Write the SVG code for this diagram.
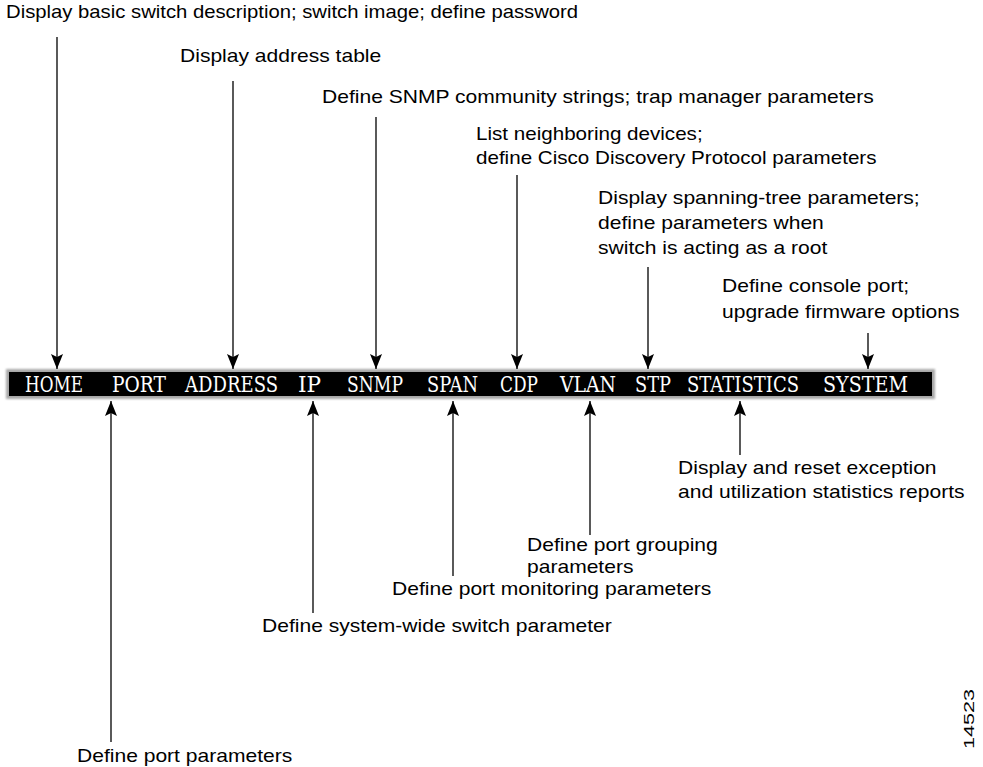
<svg xmlns="http://www.w3.org/2000/svg" width="983" height="767" viewBox="0 0 983 767">
<style>
.lbl{font-family:"Liberation Sans",Arial,sans-serif;font-size:18px;fill:#000}
.menu{font-family:"DejaVu Serif","Liberation Serif",serif;font-size:22px;fill:#fff}
.con{stroke:#000;stroke-width:1.3;fill:none}
.dn{marker-end:url(#ah)}
.up{marker-start:url(#ahs)}
</style>
<defs>
<marker id="ah" markerUnits="userSpaceOnUse" markerWidth="16" markerHeight="12" refX="15" refY="6" orient="auto">
<path d="M0,0 L15,6 L0,12 L3,6 z" fill="#000"/>
</marker>
<marker id="ahs" markerUnits="userSpaceOnUse" markerWidth="16" markerHeight="12" refX="0" refY="6" orient="auto">
<path d="M15,0 L0,6 L15,12 L12,6 z" fill="#000"/>
</marker>
<filter id="soft" x="-2%" y="-20%" width="104%" height="140%">
<feGaussianBlur stdDeviation="1"/>
</filter>
</defs>
<rect width="983" height="767" fill="#fff"/>
<g id="menubar">
<rect x="6" y="369" width="929" height="30" fill="#a8a8a8" filter="url(#soft)"/>
<rect x="9" y="372" width="923" height="24" fill="#000"/>
<text class="menu" x="25" y="392" textLength="58" lengthAdjust="spacingAndGlyphs">HOME</text>
<text class="menu" x="112" y="392" textLength="54" lengthAdjust="spacingAndGlyphs">PORT</text>
<text class="menu" x="185" y="392" textLength="93" lengthAdjust="spacingAndGlyphs">ADDRESS</text>
<text class="menu" x="298" y="392" textLength="23" lengthAdjust="spacingAndGlyphs">IP</text>
<text class="menu" x="347" y="392" textLength="56" lengthAdjust="spacingAndGlyphs">SNMP</text>
<text class="menu" x="427" y="392" textLength="51" lengthAdjust="spacingAndGlyphs">SPAN</text>
<text class="menu" x="500" y="392" textLength="38" lengthAdjust="spacingAndGlyphs">CDP</text>
<text class="menu" x="560" y="392" textLength="56" lengthAdjust="spacingAndGlyphs">VLAN</text>
<text class="menu" x="635" y="392" textLength="36" lengthAdjust="spacingAndGlyphs">STP</text>
<text class="menu" x="687" y="392" textLength="112" lengthAdjust="spacingAndGlyphs">STATISTICS</text>
<text class="menu" x="823" y="392" textLength="85" lengthAdjust="spacingAndGlyphs">SYSTEM</text>
</g>
<g id="connectors">
<line class="con dn" x1="57" y1="37" x2="57" y2="369"/>
<line class="con dn" x1="233" y1="81" x2="233" y2="369"/>
<line class="con dn" x1="376" y1="117" x2="376" y2="369"/>
<line class="con dn" x1="517" y1="175" x2="517" y2="369"/>
<line class="con dn" x1="648" y1="267" x2="648" y2="369"/>
<line class="con dn" x1="868" y1="333" x2="868" y2="369"/>
<line class="con up" x1="111" y1="401" x2="111" y2="742"/>
<line class="con up" x1="313" y1="401" x2="313" y2="613"/>
<line class="con up" x1="453" y1="401" x2="453" y2="576"/>
<line class="con up" x1="590" y1="401" x2="590" y2="535"/>
<line class="con up" x1="740" y1="401" x2="740" y2="455"/>
</g>
<g id="home-label"><text class="lbl" transform="translate(6 18) scale(1.127 1)">Display basic switch description; switch image; define password</text></g>
<g id="address-label"><text class="lbl" transform="translate(180 62) scale(1.17 1)">Display address table</text></g>
<g id="snmp-label"><text class="lbl" transform="translate(322 103) scale(1.17 1)">Define SNMP community strings; trap manager parameters</text></g>
<g id="cdp-label"><text class="lbl" transform="translate(476 140) scale(1.145 1)"><tspan x="0" y="0">List neighboring devices;</tspan><tspan x="0" y="24">define Cisco Discovery Protocol parameters</tspan></text></g>
<g id="stp-label"><text class="lbl" transform="translate(598 204) scale(1.17 1)"><tspan x="0" y="0">Display spanning-tree parameters;</tspan><tspan x="0" y="25">define parameters when</tspan><tspan x="0" y="50">switch is acting as a root</tspan></text></g>
<g id="system-label"><text class="lbl" transform="translate(722 292) scale(1.17 1)"><tspan x="0" y="0">Define console port;</tspan><tspan x="0" y="26">upgrade firmware options</tspan></text></g>
<g id="statistics-label"><text class="lbl" transform="translate(678 474) scale(1.17 1)"><tspan x="0" y="0">Display and reset exception</tspan><tspan x="0" y="24">and utilization statistics reports</tspan></text></g>
<g id="vlan-label"><text class="lbl" transform="translate(527 551) scale(1.17 1)"><tspan x="0" y="0">Define port grouping</tspan><tspan x="0" y="22">parameters</tspan></text></g>
<g id="span-label"><text class="lbl" transform="translate(392 595) scale(1.17 1)">Define port monitoring parameters</text></g>
<g id="ip-label"><text class="lbl" transform="translate(262 632) scale(1.17 1)">Define system-wide switch parameter</text></g>
<g id="port-label"><text class="lbl" transform="translate(77 762) scale(1.17 1)">Define port parameters</text></g>
<g id="figure-id"><text class="lbl" style="font-size:15px" transform="translate(974 749) rotate(-90)" textLength="60" lengthAdjust="spacingAndGlyphs">14523</text></g>
</svg>
